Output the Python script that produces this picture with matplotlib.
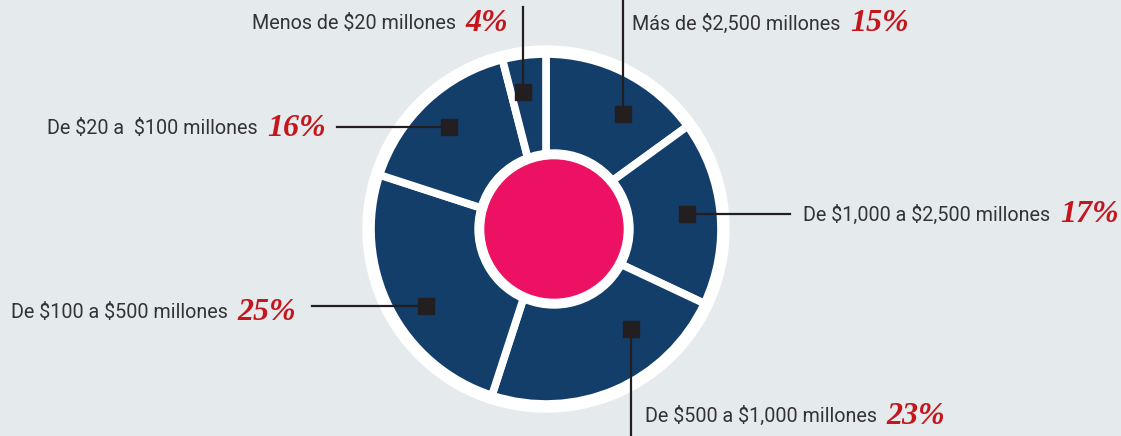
import matplotlib.pyplot as plt
from matplotlib.patches import Circle

# Slices, clockwise from 12 o'clock
labels = ["Más de \\$2,500 millones", "De \\$1,000 a \\$2,500 millones",
          "De \\$500 a \\$1,000 millones", "De \\$100 a \\$500 millones",
          "De \\$20 a  \\$100 millones", "Menos de \\$20 millones"]
shares = [15, 17, 23, 25, 16, 4]
pct_text = ["15%", "17%", "23%", "25%", "16%", "4%"]

navy = '#133e6a'
pink = '#ed1164'
bg = '#e5eaed'
red = '#c4161c'
ink = '#231f20'

W, H = 1121, 436
cx, cy = 546, H - 229

fig = plt.figure(figsize=(W / 100, H / 100), dpi=100)
fig.patch.set_facecolor(bg)
ax = fig.add_axes([0, 0, 1, 1])
ax.set_facecolor(bg)

ax.add_patch(Circle((cx, cy), 183, color='white', zorder=0.5))
ax.pie(shares, center=(cx, cy), radius=175, startangle=90, counterclock=False,
       colors=[navy] * len(shares),
       wedgeprops=dict(edgecolor='white', linewidth=5.5))
ax.add_patch(Circle((cx + 8, cy), 79, color='white', zorder=3))
ax.add_patch(Circle((cx + 8, cy), 69, color=pink, zorder=4))

# marker point, line end, side of the text
callouts = [
    ((623, 114), (623, 0), 'up-right'),
    ((687, 214), (790, 214), 'right'),
    ((631, 329), (631, 436), 'down-right'),
    ((426, 306), (312, 306), 'left'),
    ((449, 127), (337, 127), 'left'),
    ((523, 92), (523, 7), 'up-left'),
]
text_pos = [(632, 24), (803, 215), (645, 416), (296, 313), (326, 129), (508, 24)]

lab_font = dict(family=['Roboto', 'DejaVu Sans'], fontsize=14.2,
                color='#333333')
pct_font = dict(family='Liberation Serif', fontsize=23, color=red,
                fontweight='bold', style='italic')

for (m, e, side), (tx, ty), lab, pct in zip(callouts, text_pos, labels, pct_text):
    ax.plot([m[0], e[0]], [H - m[1], H - e[1]], color=ink, lw=1.6, zorder=5)
    ax.plot(m[0], H - m[1], marker='s', ms=11.5, color=ink, zorder=6)
    if 'right' in side:
        t = ax.text(tx, H - ty, lab + '  ', ha='left', va='center', zorder=7, **lab_font)
        ax.annotate(pct, xycoords=t, xy=(1, 0.5), ha='left', va='center', zorder=7,
                    **pct_font)
    else:
        t = ax.text(tx, H - ty, pct, ha='right', va='center', zorder=7, **pct_font)
        ax.annotate(lab + '  ', xycoords=t, xy=(0, 0.5), ha='right', va='center',
                    zorder=7, **lab_font)

ax.set_xlim(0, W)
ax.set_ylim(0, H)
ax.set_aspect('equal')
ax.axis('off')

fig.savefig('out.png', dpi=100, facecolor=bg)
